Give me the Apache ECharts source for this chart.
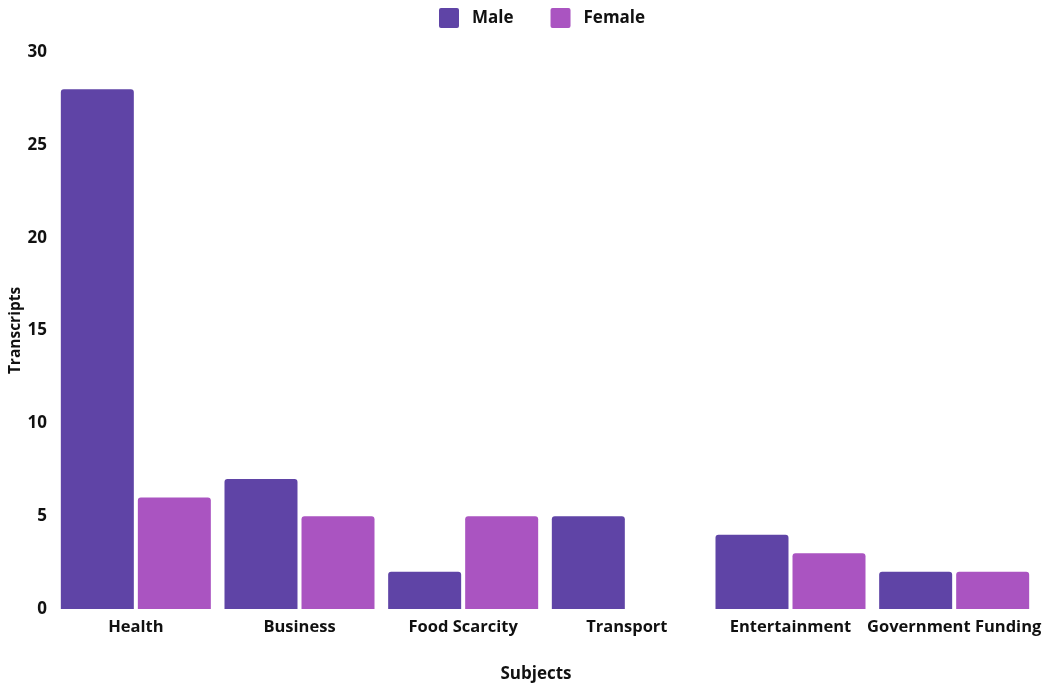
<!DOCTYPE html>
<html>
<head>
<meta charset="utf-8">
<script src="https://cdn.jsdelivr.net/npm/echarts@6/dist/echarts.min.js"></script>
<style>html,body{margin:0;padding:0;background:#fff}#c{width:1051px;height:685px}</style>
</head>
<body>
<div id="c"></div>
<script>
const categories = ['Health', 'Business', 'Food Scarcity', 'Transport', 'Entertainment', 'Government Funding'];
const maleValues = [28, 7, 2, 5, 4, 2];
const femaleValues = [6, 5, 5, 0, 3, 2];
const yTicks = [0, 5, 10, 15, 20, 25, 30];

const font = '"Open Sans", sans-serif';
const chart = echarts.init(document.getElementById('c'));
chart.setOption({
  animation: false,
  textStyle: { fontFamily: font },
  legend: {
    top: 3, left: 434,
    itemWidth: 20, itemHeight: 20, itemGap: 37,
    icon: 'path://M2,0 L18,0 Q20,0 20,2 L20,18 Q20,20 18,20 L2,20 Q0,20 0,18 L0,2 Q0,0 2,0 Z',
    textStyle: { fontFamily: font, fontWeight: 'bold', fontSize: 17, color: '#111', padding: [0, 0, 0, 8] },
    data: ['Male', 'Female']
  },
  grid: { left: 54, right: 15, top: 52, bottom: 76, containLabel: false, outerBoundsMode: 'none' },
  xAxis: {
    type: 'category', data: categories,
    name: 'Subjects', nameLocation: 'middle', nameGap: 57, nameMoveOverlap: false,
    nameTextStyle: { fontFamily: font, fontWeight: 'bold', fontSize: 17, color: '#111', padding: [0, 18, 0, 0] },
    axisLine: { show: false }, axisTick: { show: false },
    axisLabel: { fontFamily: font, fontWeight: 'bold', fontSize: 16.5, color: '#111', margin: 10, interval: 0 }
  },
  yAxis: {
    type: 'value', min: 0, max: 30, interval: 5,
    name: 'Transcripts', nameLocation: 'middle', nameGap: 30, nameMoveOverlap: false,
    nameTextStyle: { fontFamily: font, fontWeight: 'bold', fontSize: 15.5, color: '#111' },
    splitLine: { show: false }, axisLine: { show: false }, axisTick: { show: false },
    axisLabel: { fontFamily: font, fontWeight: 'bold', fontSize: 17, color: '#111', margin: 7,
      formatter: v => yTicks.includes(v) ? String(v) : '' }
  },
  series: [
    { name: 'Male', type: 'bar', data: maleValues, barWidth: 73, barGap: '5.5%',
      itemStyle: { color: '#5f44a6', borderRadius: [3, 3, 0, 0] } },
    { name: 'Female', type: 'bar', data: femaleValues, barWidth: 73,
      itemStyle: { color: '#aa54c1', borderRadius: [3, 3, 0, 0] } }
  ]
});
</script>
</body>
</html>
